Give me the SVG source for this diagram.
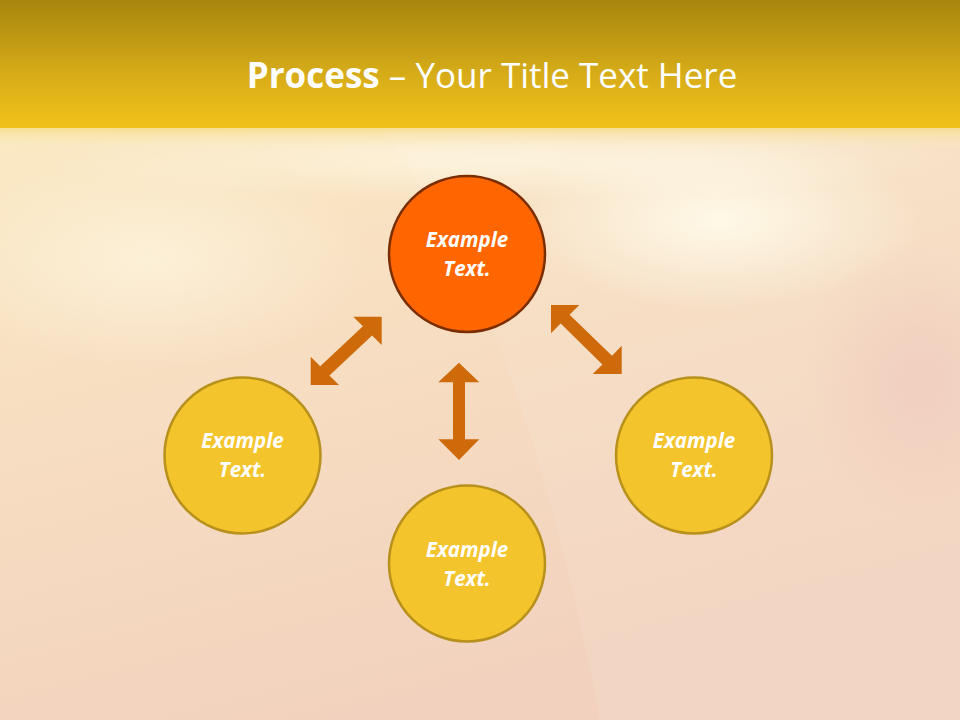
<svg xmlns="http://www.w3.org/2000/svg" width="960" height="720" viewBox="0 0 960 720">
<defs>
<linearGradient id="band" x1="0" y1="0" x2="0" y2="1">
<stop offset="0" stop-color="#A8860E"/>
<stop offset="0.55" stop-color="#D4AA18"/>
<stop offset="1" stop-color="#F2C21A"/>
</linearGradient>
<linearGradient id="body" x1="0" y1="0" x2="0.35" y2="1">
<stop offset="0" stop-color="#FCEEC4"/>
<stop offset="0.45" stop-color="#F8E0C2"/>
<stop offset="1" stop-color="#F2D2BE"/>
</linearGradient>
<linearGradient id="fade" x1="0" y1="0" x2="0" y2="1">
<stop offset="0" stop-color="#F6D870" stop-opacity="0.6"/>
<stop offset="1" stop-color="#FDF2CC" stop-opacity="0"/>
</linearGradient>
<radialGradient id="glow" cx="0.5" cy="0.5" r="0.5">
<stop offset="0" stop-color="#FFFCEA" stop-opacity="0.9"/>
<stop offset="1" stop-color="#FFFCEA" stop-opacity="0"/>
</radialGradient>
<radialGradient id="pink" cx="0.5" cy="0.5" r="0.5">
<stop offset="0" stop-color="#EEC8B8" stop-opacity="0.8"/>
<stop offset="1" stop-color="#EEC8B8" stop-opacity="0"/>
</radialGradient>
</defs>
<style>
.node circle { stroke-width: 2.5; }
.yellow circle { fill: #F4C42C; stroke: #B8901C; }
.orange circle { fill: #FF6600; stroke: #7A2E00; }
.label { font-family: "Open Sans", "Liberation Sans", sans-serif; font-size: 20.5px; font-weight: bold; font-style: italic; fill: #FFFFFF; text-anchor: middle; }
.arrow { fill: #CF6A0A; }
</style>
<g id="background">
<rect x="0" y="0" width="960" height="720" fill="url(#body)"/>
<ellipse cx="720" cy="220" rx="200" ry="90" fill="url(#glow)"/>
<ellipse cx="150" cy="260" rx="220" ry="110" fill="url(#glow)" opacity="0.6"/>
<ellipse cx="500" cy="160" rx="460" ry="40" fill="url(#glow)" opacity="0.7"/>
<ellipse cx="920" cy="380" rx="120" ry="140" fill="url(#pink)"/>
<path d="M380 128 Q520 300 600 720 L960 720 L960 128 Z" fill="#FFFFFF" opacity="0.08"/>
<rect x="0" y="128" width="960" height="22" fill="url(#fade)"/>
<rect x="0" y="0" width="960" height="128" fill="url(#band)"/>
</g>
<g id="title">
<text x="492" y="88" text-anchor="middle" font-family="'Open Sans', 'Liberation Sans', sans-serif" font-size="35" fill="#FFFFFF"><tspan font-weight="bold">Process</tspan> – Your Title Text Here</text>
</g>
<g id="connectors">
<polygon class="arrow" points="381.7,316.7 381.7,345 372.1,335.45 329.45,375.45 339,385 310.7,385 310.7,356.7 320.25,366.25 362.9,326.25 353.3,316.7"/>
<polygon class="arrow" points="459,362.7 479.3,382.3 465,382.3 465,439.3 479.3,439.3 459,460 438.3,439.3 453,439.3 453,382.3 438.3,382.3"/>
<polygon class="arrow" points="551,305 579.3,305 569.6,314.7 612,355.7 621.7,345.7 621.7,374 592.7,374 602.4,364.5 560.7,323.6 551,333.3"/>
</g>
<g id="node-top" class="node orange">
<circle cx="467" cy="254" r="78"/>
<text class="label" x="467" y="247">Example</text>
<text class="label" x="467" y="276">Text.</text>
</g>
<g id="node-left" class="node yellow">
<circle cx="242.5" cy="455.5" r="78"/>
<text class="label" x="242.5" y="448">Example</text>
<text class="label" x="242.5" y="477">Text.</text>
</g>
<g id="node-bottom" class="node yellow">
<circle cx="467" cy="563.5" r="78"/>
<text class="label" x="467" y="557">Example</text>
<text class="label" x="467" y="586">Text.</text>
</g>
<g id="node-right" class="node yellow">
<circle cx="694" cy="455.5" r="78"/>
<text class="label" x="694" y="448">Example</text>
<text class="label" x="694" y="477">Text.</text>
</g>
</svg>
